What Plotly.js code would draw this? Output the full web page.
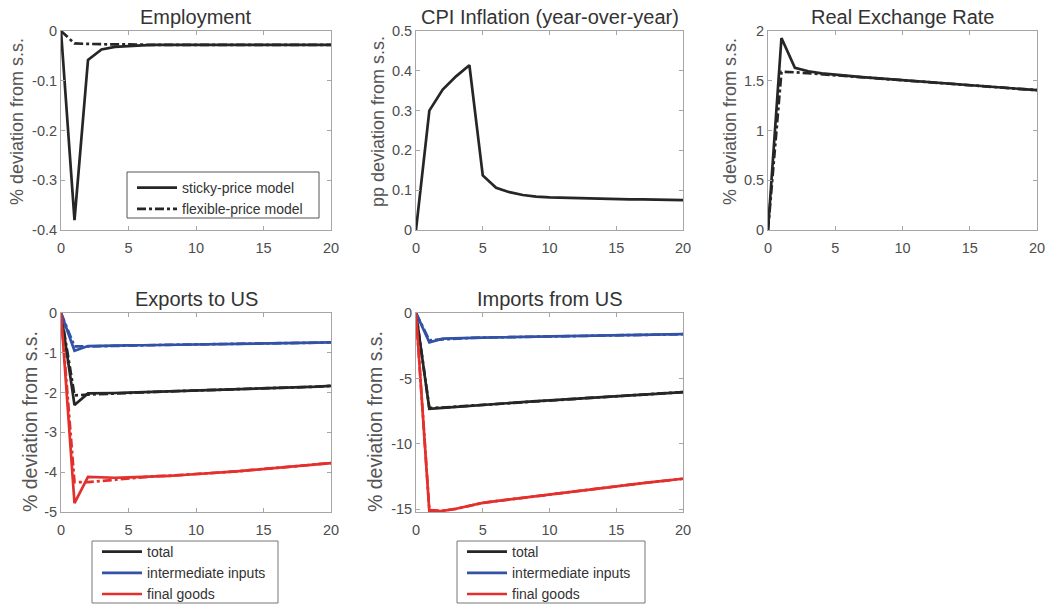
<!DOCTYPE html>
<html>
<head>
<meta charset="utf-8">
<script src="https://cdn.plot.ly/plotly-3.0.1.min.js"></script>
<style>html,body{margin:0;padding:0;background:#fff;}#chart{width:1047px;height:605px;}</style>
</head>
<body>
<div id="chart"></div>
<script>
// ---------- data ----------
const periods = [0,1,2,3,4,5,6,7,8,9,10,11,12,13,14,15,16,17,18,19,20];

const empSticky = [0,-0.380,-0.058,-0.037,-0.032,-0.030,-0.029,-0.028,-0.028,-0.028,-0.028,-0.028,-0.028,-0.028,-0.028,-0.028,-0.028,-0.028,-0.028,-0.028,-0.028];
const empFlex   = [0,-0.025,-0.026,-0.027,-0.027,-0.027,-0.028,-0.028,-0.028,-0.028,-0.028,-0.028,-0.028,-0.028,-0.028,-0.028,-0.028,-0.028,-0.028,-0.028,-0.028];

const cpiSticky = [0,0.300,0.353,0.386,0.414,0.137,0.106,0.095,0.088,0.084,0.082,0.081,0.080,0.079,0.078,0.078,0.077,0.077,0.076,0.076,0.075];

const rerSticky = [0,1.93,1.63,1.595,1.575,1.56,1.548,1.537,1.527,1.517,1.505,1.495,1.485,1.475,1.465,1.455,1.445,1.435,1.425,1.415,1.405];
const rerFlex   = [0,1.59,1.585,1.575,1.567,1.558,1.548,1.537,1.527,1.517,1.505,1.495,1.485,1.475,1.465,1.455,1.445,1.435,1.425,1.415,1.405];

const expTotal     = [0,-2.31,-2.02,-2.02,-2.01,-2.00,-1.99,-1.98,-1.97,-1.96,-1.95,-1.94,-1.93,-1.92,-1.91,-1.90,-1.89,-1.88,-1.86,-1.85,-1.83];
const expTotalFlex = [0,-2.07,-2.05,-2.04,-2.02,-2.01,-1.995,-1.98,-1.97,-1.96,-1.95,-1.94,-1.93,-1.92,-1.91,-1.90,-1.89,-1.88,-1.86,-1.85,-1.83];
const expInt       = [0,-0.95,-0.83,-0.82,-0.82,-0.815,-0.81,-0.805,-0.80,-0.795,-0.79,-0.785,-0.78,-0.775,-0.77,-0.765,-0.76,-0.755,-0.75,-0.745,-0.74];
const expIntFlex   = [0,-0.84,-0.84,-0.83,-0.825,-0.815,-0.81,-0.805,-0.80,-0.795,-0.79,-0.785,-0.78,-0.775,-0.77,-0.765,-0.76,-0.755,-0.75,-0.745,-0.74];
const expFin       = [0,-4.78,-4.12,-4.13,-4.14,-4.13,-4.12,-4.10,-4.09,-4.07,-4.05,-4.02,-4.00,-3.98,-3.95,-3.92,-3.89,-3.86,-3.83,-3.80,-3.77];
const expFinFlex   = [0,-4.25,-4.25,-4.22,-4.19,-4.16,-4.13,-4.10,-4.09,-4.07,-4.05,-4.02,-4.00,-3.98,-3.95,-3.92,-3.89,-3.86,-3.83,-3.80,-3.77];

const impTotal     = [0,-7.32,-7.25,-7.17,-7.08,-7.00,-6.93,-6.86,-6.80,-6.73,-6.67,-6.60,-6.54,-6.48,-6.42,-6.36,-6.30,-6.24,-6.18,-6.11,-6.04];
const impTotalFlex = [0,-7.26,-7.22,-7.15,-7.07,-7.00,-6.93,-6.86,-6.80,-6.73,-6.67,-6.60,-6.54,-6.48,-6.42,-6.36,-6.30,-6.24,-6.18,-6.11,-6.04];
const impInt       = [0,-2.24,-1.96,-1.92,-1.90,-1.88,-1.86,-1.84,-1.82,-1.79,-1.77,-1.75,-1.73,-1.71,-1.69,-1.68,-1.66,-1.65,-1.64,-1.63,-1.62];
const impIntFlex   = [0,-2.08,-2.02,-1.95,-1.91,-1.88,-1.86,-1.84,-1.82,-1.79,-1.77,-1.75,-1.73,-1.71,-1.69,-1.68,-1.66,-1.65,-1.64,-1.63,-1.62];
const impFin       = [0,-15.15,-15.12,-14.95,-14.72,-14.50,-14.37,-14.24,-14.11,-13.98,-13.86,-13.73,-13.60,-13.47,-13.35,-13.22,-13.10,-12.99,-12.88,-12.77,-12.66];
const impFinFlex   = [0,-15.05,-15.10,-14.96,-14.73,-14.50,-14.37,-14.24,-14.11,-13.98,-13.86,-13.73,-13.60,-13.47,-13.35,-13.22,-13.10,-12.99,-12.88,-12.77,-12.66];

const xTicks = [0,5,10,15,20];
const xTickText = ['0','5','10','15','20'];
const empTicks = [0,-0.1,-0.2,-0.3,-0.4];
const empTickText = ['0','-0.1','-0.2','-0.3','-0.4'];
const cpiTicks = [0,0.1,0.2,0.3,0.4,0.5];
const cpiTickText = ['0','0.1','0.2','0.3','0.4','0.5'];
const rerTicks = [0,0.5,1,1.5,2];
const rerTickText = ['0','0.5','1','1.5','2'];
const expTicks = [0,-1,-2,-3,-4,-5];
const expTickText = ['0','-1','-2','-3','-4','-5'];
const impTicks = [0,-5,-10,-15];
const impTickText = ['0','-5','-10','-15'];

const panelTitles = ['Employment','CPI Inflation (year-over-year)','Real Exchange Rate','Exports to US','Imports from US'];
const yTitles = ['% deviation from s.s.','pp deviation from s.s.','% deviation from s.s.','% deviation from s.s.','% deviation from s.s.'];
const empLegend = ['sticky-price model','flexible-price model'];
const tradeLegend = ['total','intermediate inputs','final goods'];

// ---------- styling ----------
const BLACK = '#262626', BLUE = '#3352a5', RED = '#e3302c';
const LW = 2.7;
const FONT = 'Liberation Sans, Arial, Helvetica, sans-serif';

function line(x, y, color, dash, xa, ya, name, legend, show) {
  return {x: x, y: y, type: 'scatter', mode: 'lines', xaxis: xa, yaxis: ya,
    name: name, legend: legend, showlegend: show,
    line: {color: color, width: LW, dash: dash}, hoverinfo: 'skip'};
}

const traces = [
  line(periods, empSticky, BLACK, 'solid', 'x', 'y', empLegend[0], 'legend', true),
  line(periods, empFlex, BLACK, 'dashdot', 'x', 'y', empLegend[1], 'legend', true),
  line(periods, cpiSticky, BLACK, 'solid', 'x2', 'y2', '', 'legend', false),
  line(periods, rerFlex, BLACK, 'dashdot', 'x3', 'y3', '', 'legend', false),
  line(periods, rerSticky, BLACK, 'solid', 'x3', 'y3', '', 'legend', false),
  // exports
  line(periods, expTotalFlex, BLACK, 'dashdot', 'x4', 'y4', '', 'legend2', false),
  line(periods, expIntFlex, BLUE, 'dashdot', 'x4', 'y4', '', 'legend2', false),
  line(periods, expFinFlex, RED, 'dashdot', 'x4', 'y4', '', 'legend2', false),
  line(periods, expTotal, BLACK, 'solid', 'x4', 'y4', tradeLegend[0], 'legend2', true),
  line(periods, expInt, BLUE, 'solid', 'x4', 'y4', tradeLegend[1], 'legend2', true),
  line(periods, expFin, RED, 'solid', 'x4', 'y4', tradeLegend[2], 'legend2', true),
  // imports
  line(periods, impTotalFlex, BLACK, 'dashdot', 'x5', 'y5', '', 'legend3', false),
  line(periods, impIntFlex, BLUE, 'dashdot', 'x5', 'y5', '', 'legend3', false),
  line(periods, impFinFlex, RED, 'dashdot', 'x5', 'y5', '', 'legend3', false),
  line(periods, impTotal, BLACK, 'solid', 'x5', 'y5', tradeLegend[0], 'legend3', true),
  line(periods, impInt, BLUE, 'solid', 'x5', 'y5', tradeLegend[1], 'legend3', true),
  line(periods, impFin, RED, 'solid', 'x5', 'y5', tradeLegend[2], 'legend3', true)
];

const W = 1047, H = 605;
const fx = px => px / W;         // pixel x -> paper fraction
const fy = py => 1 - py / H;     // pixel y (from top) -> paper fraction

// pixel boxes [left, right, top, bottom]
const boxes = [
  [61, 331, 31, 230],
  [416, 683, 31, 230],
  [768, 1037, 31, 230],
  [61, 331, 313, 512],
  [416, 683, 313, 512]
];
const yRanges = [[-0.4,0],[0,0.5],[0,2],[-5,0],[-15.2,0]];
const yTickSets = [[empTicks,empTickText],[cpiTicks,cpiTickText],[rerTicks,rerTickText],[expTicks,expTickText],[impTicks,impTickText]];

const AXCOL = '#a6a6a6';
const TICKFONT = {family: FONT, size: 14.5, color: '#4d4d4d'};
const LEGFONT = {family: FONT, size: 14, color: '#333'};

function legendSpec(x, y) {
  return {x: fx(x), y: fy(y), xanchor: 'left', yanchor: 'top', bgcolor: 'rgba(0,0,0,0)',
    borderwidth: 0, font: LEGFONT, tracegroupgap: 0, itemwidth: 40};
}

const layout = {
  width: W, height: H, autosize: false,
  margin: {l: 0, r: 0, t: 0, b: 0, pad: 0, autoexpand: false},
  paper_bgcolor: '#fff', plot_bgcolor: '#fff',
  font: {family: FONT, color: '#333'},
  annotations: [],
  shapes: [
    {type: 'rect', xref: 'paper', yref: 'paper', x0: fx(127), x1: fx(319), y0: fy(218), y1: fy(172),
      line: {color: '#555', width: 1}, fillcolor: '#fff', layer: 'above'},
    {type: 'rect', xref: 'paper', yref: 'paper', x0: fx(92), x1: fx(278), y0: fy(603), y1: fy(541),
      line: {color: '#777', width: 1}, fillcolor: '#fff', layer: 'above'},
    {type: 'rect', xref: 'paper', yref: 'paper', x0: fx(457), x1: fx(645), y0: fy(603), y1: fy(541),
      line: {color: '#777', width: 1}, fillcolor: '#fff', layer: 'above'}
  ],
  legend: legendSpec(132, 172),
  legend2: legendSpec(97, 536),
  legend3: legendSpec(462, 536)
};

const yTitleX = [17, 378, 730, 30, 375];
const yTitleY = [122, 122, 122, 422, 422];
const yTitleSize = [18, 18, 18, 19.5, 19.5];
boxes.forEach((b, i) => {
  const n = i === 0 ? '' : String(i + 1);
  layout['xaxis' + n] = {
    domain: [fx(b[0]), fx(b[1])], anchor: 'y' + n, range: [0, 20],
    tickvals: xTicks, ticktext: xTickText, ticks: 'inside', ticklen: 4, tickcolor: AXCOL,
    showline: true, linecolor: AXCOL, linewidth: 1, mirror: 'ticks', ticklabelstandoff: 5,
    showgrid: false, zeroline: false, tickfont: TICKFONT, fixedrange: true, automargin: false
  };
  layout['yaxis' + n] = {
    domain: [fy(b[3]), fy(b[2])], anchor: 'x' + n, range: yRanges[i],
    tickvals: yTickSets[i][0], ticktext: yTickSets[i][1], ticks: 'inside', ticklen: 4, tickcolor: AXCOL,
    showline: true, linecolor: AXCOL, linewidth: 1, mirror: 'ticks',
    showgrid: false, zeroline: false, tickfont: TICKFONT, fixedrange: true, automargin: false
  };
  layout.annotations.push({
    text: panelTitles[i], xref: 'paper', yref: 'paper', showarrow: false,
    x: fx((b[0] + b[1]) / 2), y: fy(b[2] - 14), xanchor: 'center', yanchor: 'middle',
    font: {family: FONT, size: 20, color: '#333'}
  });
  layout.annotations.push({
    text: yTitles[i], xref: 'paper', yref: 'paper', showarrow: false, textangle: -90,
    x: fx(yTitleX[i]), y: fy(yTitleY[i]), xanchor: 'center', yanchor: 'middle',
    font: {family: FONT, size: yTitleSize[i], color: '#555'}
  });
});

Plotly.newPlot('chart', traces, layout, {staticPlot: true, displayModeBar: false});
</script>
</body>
</html>
